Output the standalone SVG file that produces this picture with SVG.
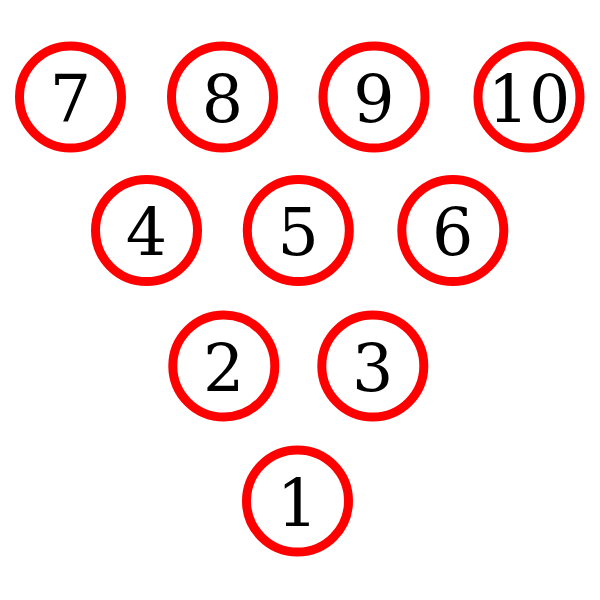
<svg xmlns="http://www.w3.org/2000/svg" width="600" height="600" viewBox="0 0 600 600">
<style>
.pin circle { fill: #ffffff; stroke: #ff0000; stroke-width: 9; }
.pin text { font-family: "DejaVu Serif", "Liberation Serif", serif; font-size: 65px; fill: #000000; text-anchor: middle; }
</style>
<rect width="600" height="600" fill="#ffffff"/>
<g id="connectors"></g>
<g id="pin7" class="pin"><circle cx="70.5" cy="97" r="51"/><text x="70.5" y="121.5">7</text></g>
<g id="pin8" class="pin"><circle cx="222.5" cy="97" r="51"/><text x="222.5" y="121.5">8</text></g>
<g id="pin9" class="pin"><circle cx="374" cy="97" r="51"/><text x="374" y="121.5">9</text></g>
<g id="pin10" class="pin"><circle cx="529" cy="97" r="51"/><text x="529" y="121.5">10</text></g>
<g id="pin4" class="pin"><circle cx="146.5" cy="230.5" r="51"/><text x="146.5" y="255">4</text></g>
<g id="pin5" class="pin"><circle cx="298.3" cy="230.5" r="51"/><text x="298.3" y="255">5</text></g>
<g id="pin6" class="pin"><circle cx="452.8" cy="230.5" r="51"/><text x="452.8" y="255">6</text></g>
<g id="pin2" class="pin"><circle cx="223.8" cy="366" r="51"/><text x="223.8" y="390.5">2</text></g>
<g id="pin3" class="pin"><circle cx="372.8" cy="366" r="51"/><text x="372.8" y="390.5">3</text></g>
<g id="pin1" class="pin"><circle cx="297.5" cy="501" r="51"/><text x="297.5" y="525.5">1</text></g>
</svg>
